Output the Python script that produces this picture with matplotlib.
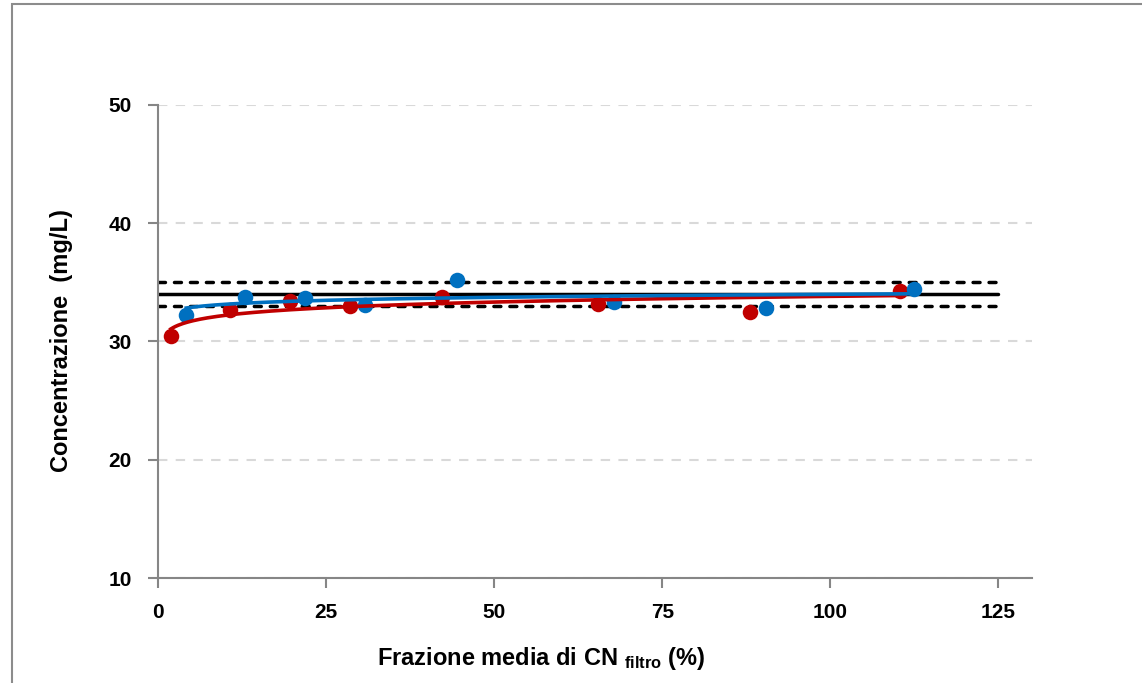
import numpy as np
import matplotlib
matplotlib.use('Agg')
import matplotlib.pyplot as plt
from matplotlib.patches import Rectangle

# series
red_x = [1.9, 10.7, 19.6, 28.5, 42.2, 65.5, 88.1, 110.3]
red_y = [30.45, 32.7, 33.4, 33.0, 33.8, 33.2, 32.5, 34.25]
blue_x = [4.2, 13.0, 21.9, 30.8, 44.4, 67.8, 90.4, 112.4]
blue_y = [32.25, 33.8, 33.7, 33.1, 35.2, 33.3, 32.8, 34.45]

ref_x = [0, 125]
ref_mid = 34
ref_low = 33
ref_high = 35

x_ticks = [0, 25, 50, 75, 100, 125]
y_ticks = [10, 20, 30, 40, 50]

RED = '#C00000'
BLUE = '#0070C0'
AXIS_GREY = '#868686'

plt.rcParams['font.family'] = ['Liberation Sans', 'DejaVu Sans']
plt.rcParams['font.weight'] = 'bold'
plt.rcParams['mathtext.default'] = 'regular'

W, H = 1142, 683
fig = plt.figure(figsize=(W / 100, H / 100), dpi=100)

# chart-area frame (runs off the right and bottom edges)
fig.patches.append(Rectangle((12 / W, -0.1), 1.2, 1 - 4 / H + 0.1,
                             transform=fig.transFigure, fill=False,
                             edgecolor='#8C8C8C', linewidth=1.5))

ax = fig.add_axes([158 / W, 1 - 578 / H, (1032 - 158) / W, (578 - 105) / H])
ax.set_xlim(0, 130)
ax.set_ylim(10, 50)

for s in ['top', 'right']:
    ax.spines[s].set_visible(False)
for s in ['left', 'bottom']:
    ax.spines[s].set_color(AXIS_GREY)
    ax.spines[s].set_linewidth(1.5)

ax.set_xticks(x_ticks)
ax.set_yticks(y_ticks)
ax.tick_params(direction='out', length=7, width=1.5, color=AXIS_GREY,
               labelsize=15)
ax.tick_params(axis='x', pad=11)
ax.tick_params(axis='y', pad=12)
for lab in ax.get_xticklabels() + ax.get_yticklabels():
    lab.set_fontweight('bold')

ax.yaxis.grid(True, color='#D9D9D9', linewidth=1.5, linestyle=(0, (4.5, 4)))
ax.set_axisbelow(True)

# reference band
ax.plot(ref_x, [ref_mid, ref_mid], color='black', lw=2.5, solid_capstyle='round', zorder=2)
for yv in (ref_low, ref_high):
    ax.plot(ref_x, [yv, yv], color='black', lw=2.5, dashes=(2.0, 2.6),
            dash_capstyle='round', zorder=2)

# logarithmic trend lines fitted on the data
def log_fit(xs, ys):
    b, a = np.polyfit(np.log(xs), ys, 1)
    xx = np.linspace(min(xs), max(xs), 300)
    return xx, a + b * np.log(xx)

ax.scatter(red_x, red_y, s=125, color=RED, zorder=3, linewidths=0)
ax.scatter(blue_x, blue_y, s=125, color=BLUE, zorder=4, linewidths=0)
xx, yy = log_fit(red_x, red_y)
ax.plot(xx, yy, color=RED, lw=2.6, zorder=5)
xx, yy = log_fit(blue_x, blue_y)
ax.plot(xx, yy, color=BLUE, lw=2.6, zorder=6)

fig.text(706 / W, 1 - 665 / H, r'Frazione media di CN $_{filtro}$ (%)',
         ha='right', va='baseline', fontsize=17, fontweight='bold')
fig.text(62 / W, 1 - 341 / H, 'Concentrazione  (mg/L)', rotation=90,
         ha='center', va='center', fontsize=17, fontweight='bold')

fig.savefig('out.png', dpi=100)
plt.close(fig)
